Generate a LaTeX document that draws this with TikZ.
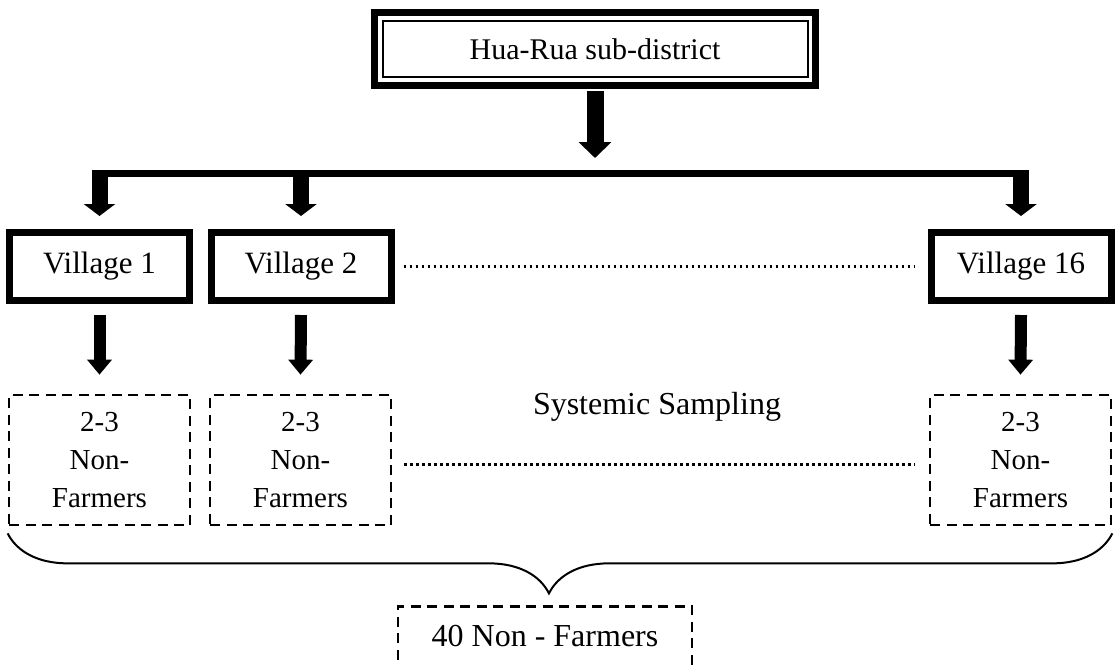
\documentclass[tikz,border=0pt]{standalone}
\usepackage{fontspec}
\setmainfont{Liberation Serif}
\usetikzlibrary{arrows.meta,decorations.pathreplacing}

\tikzset{
    village/.style={draw, line width=7pt, minimum width=180pt, minimum height=68pt,
            font=\fontsize{31}{36}\selectfont},
    sample/.style={draw, line width=2.7pt, dash pattern=on 10pt off 6.5pt,
            minimum width=181pt, minimum height=130pt, align=center,
            font=\fontsize{29}{38}\selectfont},
    bigarrow/.style={line width=17pt, -{Triangle[width=32pt,length=16pt]}},
    midarrow/.style={line width=16pt, -{Triangle[width=31pt,length=12pt]}},
    smallarrow/.style={line width=12pt, -{Triangle[width=24pt,length=15pt]}},
    dotline/.style={line width=2.5pt, dash pattern=on 2.5pt off 3.5pt}
}

\begin{document}
\begin{tikzpicture}[x=1pt, y=1pt]
            \useasboundingbox (0,0) rectangle (1116,-665);

            \node[draw, line width=2pt, minimum width=425pt, minimum height=56.5pt,
                font=\fontsize{30}{36}\selectfont] (hua) at (595,-48.75) {Hua-Rua sub-district};
            \draw[line width=7pt] ([shift={(-7pt,7pt)}]hua.north west) rectangle ([shift={(7pt,-7.5pt)}]hua.south east);

            \node[village] (v1) at (99.5,-266.5) {Village 1};
            \node[village] (v2) at (301,-266.5) {Village 2};
            \node[village] (v16) at (1021,-266.5) {Village 16};

            \coordinate (bar) at (0,-173.5);
            \draw[bigarrow] ([yshift=-13pt]hua.south) -- ([yshift=15.5pt]hua.south |- bar);
            \draw[line width=7pt] ([xshift=-8pt]v1.north |- bar) -- ([xshift=8pt]v16.north |- bar);
            \foreach \v in {v1, v2, v16} {
                    \draw[midarrow] (\v.north |- bar) -- ([yshift=13pt]\v.north);
                }
            \draw[dotline] ([xshift=9pt]v2.east) -- ([xshift=-13pt]v16.west);

            \node[sample] (s1) at (99.5,-460) {2-3\\Non-\\Farmers};
            \node[sample] (s2) at (300.5,-460) {2-3\\Non-\\Farmers};
            \node[sample] (s16) at (1020.5,-460) {2-3\\Non-\\Farmers};
            \foreach \v/\s in {v1/s1, v2/s2, v16/s16} {
                    \draw[smallarrow] ([yshift=-11pt]\v.south) -- ([yshift=19pt]\s.north);
                }
            \draw[dotline] ([shift={(12pt,-4.5pt)}]s2.east) -- ([shift={(-14pt,-4.5pt)}]s16.west);
            \node[anchor=base, font=\fontsize{32}{38}\selectfont] (sys) at (657,-414) {Systemic Sampling};

            \draw[decorate, decoration={brace, mirror, amplitude=60pt, aspect=0.49}, line width=2pt]
                ([yshift=-7pt]s1.south west) -- ([yshift=-7pt]s16.south east);
            \node[draw, line width=2.7pt, dash pattern=on 10pt off 6.5pt, anchor=north,
                minimum width=294pt, text height=22pt, text depth=20pt, inner ysep=18pt,
                font=\fontsize{32}{38}\selectfont] (total) at (545,-605) {40 Non - Farmers};
        \end{tikzpicture}
\end{document}
